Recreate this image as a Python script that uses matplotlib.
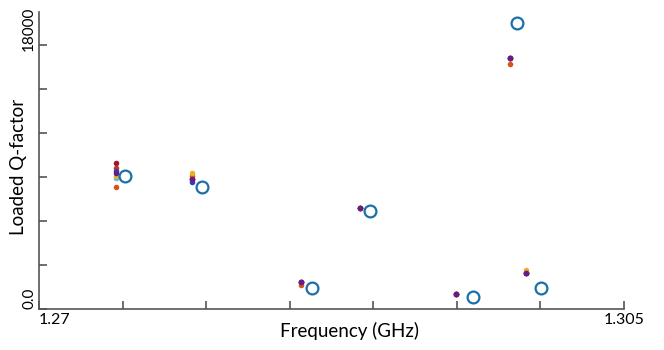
import matplotlib.pyplot as plt
from matplotlib.transforms import ScaledTranslation

# measured resonances (hollow circles)
meas_freq = [1.27514, 1.27974, 1.28636, 1.28983, 1.29598, 1.29861, 1.30004]
meas_q = [9070, 8320, 1430, 6680, 820, 19500, 1430]

# simulated resonances (small dots), one list per run
sim_freq = [1.27460, 1.27914, 1.28569, 1.28923, 1.29497, 1.29815, 1.29913]
sim_runs = {
    "#4dbeee": [8930, 8860, 1840, 6900, 1020, 17130, 2470],
    "#a2142f": [9955, 8860, 1840, 6900, 1020, 17130, 2470],
    "#c8361c": [9610, 8860, 1840, 6900, 1020, 17130, 2470],
    "#d95319": [8320, 9070, 1640, 6900, 1020, 16680, 2470],
    "#edb120": [9070, 9270, 1840, 6900, 1020, 17130, 2660],
    "#2b3fc0": [9410, 8660, 1840, 6900, 1020, 17130, 2470],
    "#6a1b8a": [9270, 8860, 1840, 6900, 1020, 17130, 2470],
}

x_ticks = [1.27, 1.275, 1.28, 1.285, 1.29, 1.295, 1.30, 1.305]
x_labels = ["1.27", "", "", "", "", "", "", "1.305"]
y_ticks = [0, 3000, 6000, 9000, 12000, 15000, 18000]
y_labels = ["0.0", "", "", "", "", "", "18000"]

plt.rcParams["font.family"] = ["Lato", "DejaVu Sans"]

fig = plt.figure(figsize=(6.64, 3.5), dpi=100)
ax = fig.add_axes([0.0587, 0.1171, 0.8811, 0.8486])

for color, vals in sim_runs.items():
    ax.plot(sim_freq, vals, "o", color=color, markersize=4, markeredgewidth=0, zorder=3)

ax.plot(meas_freq, meas_q, "o", markerfacecolor="none", markeredgecolor="#1b6fa8",
        markersize=8.5, markeredgewidth=1.6, zorder=4)

ax.set_xlim(1.27, 1.305)
ax.set_ylim(0, 20250)

for s in ["top", "right"]:
    ax.spines[s].set_visible(False)
for s in ["left", "bottom"]:
    ax.spines[s].set_color("#555555")
    ax.spines[s].set_linewidth(1.2)

ax.set_xticks(x_ticks)
ax.set_xticklabels(x_labels, fontsize=11.5)
ax.set_yticks(y_ticks)
ax.set_yticklabels(y_labels, fontsize=11, rotation=90, va="bottom")
ax.tick_params(direction="in", length=6, width=1.2, color="#555555", pad=3)
ax.tick_params(axis="y", pad=2)
ax.get_xticklabels()[0].set_ha("left")
# nudge the top label down a little so it stays inside the figure
top_lab = ax.get_yticklabels()[-1]
top_lab.set_transform(top_lab.get_transform() + ScaledTranslation(0, -4 / 72, fig.dpi_scale_trans))

ax.set_xlabel("Frequency (GHz)", fontsize=13.5, labelpad=2)
ax.xaxis.set_label_coords(0.53, -0.045, transform=ax.transAxes)
ax.xaxis.label.set_va("top")
ax.set_ylabel("Loaded Q-factor", fontsize=13.5)
ax.yaxis.set_label_coords(-0.02, 0.48)

fig.savefig("out.png", dpi=100)
